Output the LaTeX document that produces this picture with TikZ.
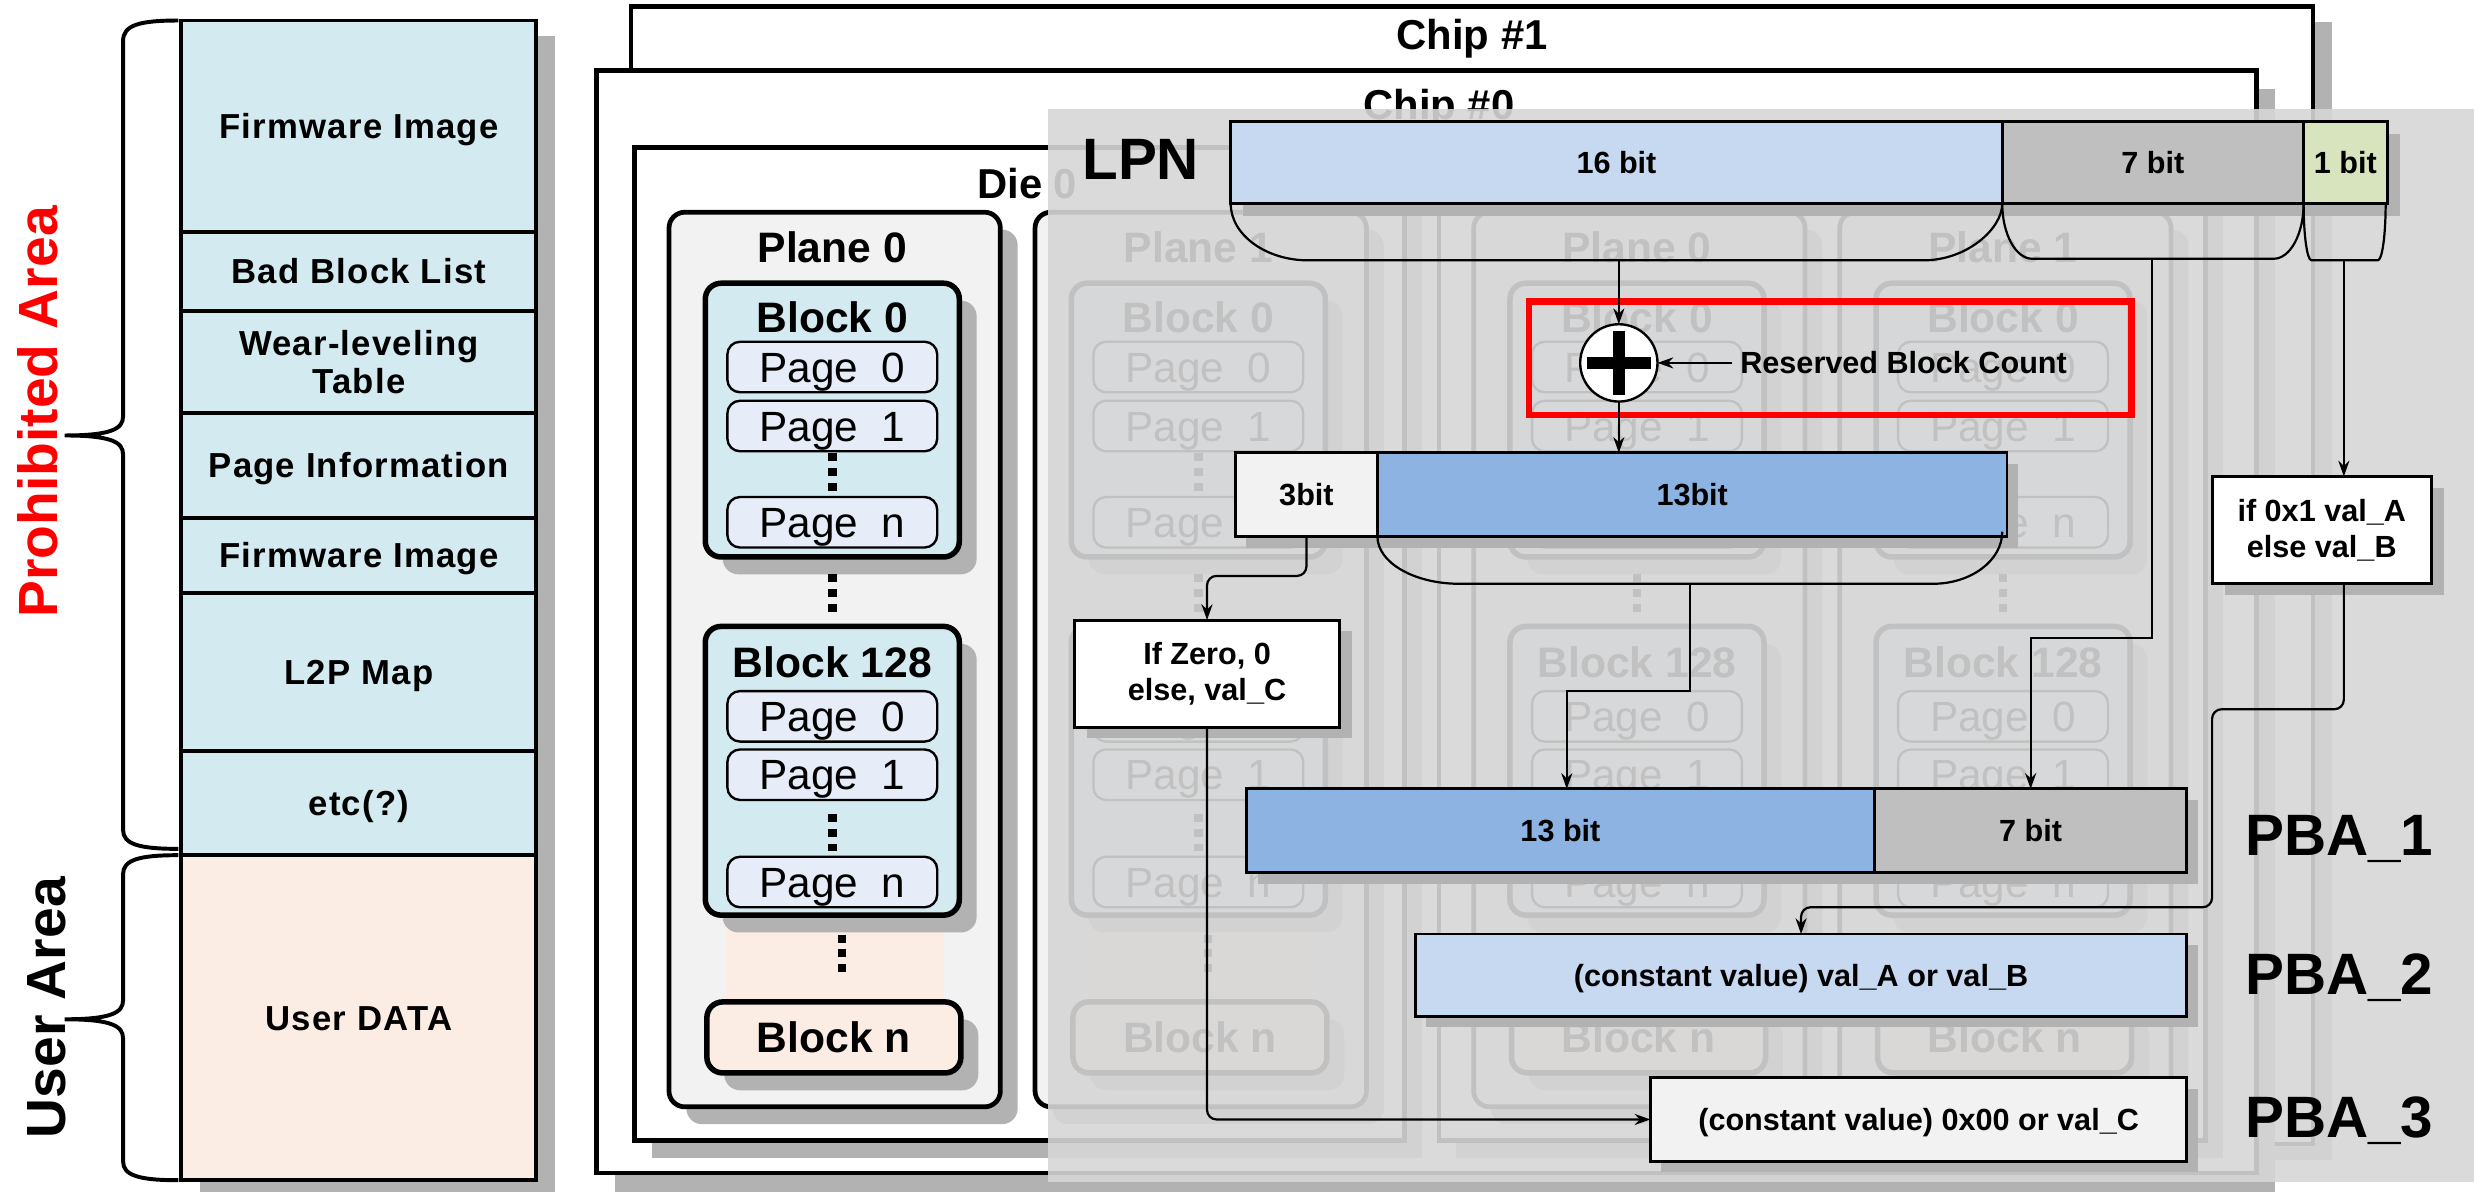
\documentclass[tikz,border=0pt]{standalone}
\usepackage{fontspec}
\setmainfont{Liberation Sans}
\newfontfamily\tabfont[LetterSpace=3.5]{Liberation Sans}
\usetikzlibrary{arrows.meta,shadows}

\definecolor{tblue}{RGB}{210,234,240}
\definecolor{tpeach}{RGB}{251,237,227}
\definecolor{pagefill}{RGB}{230,237,248}
\definecolor{planefill}{RGB}{242,242,242}
\definecolor{shd}{RGB}{178,178,178}
\definecolor{veil}{RGB}{214,214,214}
\definecolor{lpnblue}{RGB}{198,217,241}
\definecolor{midblue}{RGB}{141,179,226}
\definecolor{bitgray}{RGB}{191,191,191}
\definecolor{bitgreen}{RGB}{215,228,189}
\definecolor{hotred}{RGB}{255,0,0}

\tikzset{
  every node/.style={inner sep=0pt, outer sep=0pt},
  dshadow/.style 2 args={drop shadow={shadow xshift=#1pt, shadow yshift=-#2pt, fill=shd, opacity=1}},
  tabtxt/.style={font=\tabfont\bfseries\fontsize{22}{24}\selectfont, text height=15.8pt, text depth=0pt},
  tabtxttwo/.style={font=\tabfont\bfseries\fontsize{22}{24}\selectfont, align=center},
  bigtxt/.style={font=\bfseries\fontsize{27}{30}\selectfont, text height=19.3pt, text depth=0pt},
  chiptxt/.style={font=\bfseries\fontsize{26.5}{30}\selectfont, text height=19pt, text depth=0pt},
  pagetxt/.style={font=\fontsize{26.8}{30}\selectfont, text height=19.2pt, text depth=0pt},
  smtxt/.style={font=\bfseries\fontsize{19.4}{23}\selectfont, text height=13.9pt, text depth=0pt},
  smtxttwo/.style={font=\bfseries\fontsize{19.4}{22.5}\selectfont, align=center},
  hugetxt/.style={font=\bfseries\fontsize{37}{40}\selectfont, text height=26.5pt, text depth=0pt},
  sidetxt/.style={font=\bfseries\fontsize{35}{38}\selectfont, rotate=90, anchor=base},
  trow/.style={draw, line width=2.5pt, fill=tblue, anchor=north west, minimum width=225pt},
  chipbox/.style={draw, line width=3pt, fill=white, anchor=north west},
  planebox/.style={draw, line width=3pt, rounded corners=10pt, fill=planefill, anchor=north west, dshadow={11}{11}},
  blockbox/.style={draw, line width=3.5pt, rounded corners=10pt, fill=tblue, anchor=north west, minimum width=161pt, dshadow={11}{11}},
  pagebox/.style={draw, line width=1.5pt, rounded corners=8pt, fill=pagefill, anchor=north west, minimum width=133pt, minimum height=32pt, pagetxt},
  seg/.style={draw, line width=1.8pt, anchor=north west, smtxt},
  valbox/.style={draw, line width=1.8pt, fill=white, anchor=north west, smtxttwo, dshadow={8}{7}},
  brc/.style={line width=1.4pt},
  arr/.style={line width=1.4pt, -{Stealth[length=10pt, width=7pt]}},
}

% three stacked squares standing for omitted items
\newcommand\vdotsat[2]{\foreach \k in {0,1,2}{\fill (#1-2.7,#2+\k*9.3) rectangle ++(5.4,5);}}

% one flash plane: #1 left edge, #2 title, #3 name suffix
\newcommand\flashplane[3]{%
  \begin{scope}[xshift=#1pt]
    \node[planebox, minimum width=210pt, minimum height=567pt] (pl#3) at (0,134.5) {};
    \node[bigtxt] (pl#3t) at (103.5,156.5) {#2};
    \node[blockbox, minimum height=173.5pt] (bk#3a) at (23,179.5) {};
    \node[bigtxt] (bk#3at) at (103.5,201) {Block 0};
    \node[pagebox] (pg#3a) at (37,216.6) {Page\ \ 0};
    \node[pagebox] (pg#3b) at (37,254) {Page\ \ 1};
    \vdotsat{103.5}{287.4}
    \node[pagebox] (pg#3c) at (37,315) {Page\ \ n};
    \vdotsat{103.5}{364}
    \fill[tpeach] (36,575) rectangle (174,650);
    \node[blockbox, minimum height=183pt] (bk#3b) at (23,397) {};
    \node[bigtxt] (bk#3bt) at (103.5,419.5) {Block 128};
    \node[pagebox] (pg#3d) at (37,438) {Page\ \ 0};
    \node[pagebox] (pg#3e) at (37,475) {Page\ \ 1};
    \vdotsat{103.5}{516}
    \node[pagebox] (pg#3f) at (37,543) {Page\ \ n};
    \vdotsat{109.5}{592.4}
    \node[blockbox, fill=tpeach, minimum height=45pt, bigtxt] (bk#3c) at (24,635) {Block n};
  \end{scope}}

\begin{document}
\begin{tikzpicture}[x=1pt, y=-1pt]
\useasboundingbox (0,0) rectangle (1568,755);

% ---------- flash memory map ----------
\fill[shd] (127,23) rectangle (352,760);
\node[trow, minimum height=134pt, tabtxt] (fw1) at (115,13) {Firmware Image};
\node[trow, minimum height=50pt, tabtxt] (bbl) at (115,147) {Bad Block List};
\node[trow, minimum height=65pt, tabtxttwo] (wlt) at (115,197) {Wear-leveling\\Table};
\node[trow, minimum height=66pt, tabtxt] (pgi) at (115,262) {Page Information};
\node[trow, minimum height=48pt, tabtxt] (fw2) at (115,328) {Firmware Image};
\node[trow, minimum height=100pt, tabtxt] (l2p) at (115,376) {L2P Map};
\node[trow, minimum height=66pt, tabtxt] (etc) at (115,476) {etc(?)};
\node[trow, fill=tpeach, minimum height=206pt, tabtxt] (usr) at (115,542) {User DATA};

% braces grouping the areas
\draw[line width=2.5pt] (113,13) .. controls (88,13) and (78,16) .. (78,26) -- (78,264)
  .. controls (78,272) and (70,276) .. (41,276) .. controls (70,276) and (78,280) .. (78,288)
  -- (78,526) .. controls (78,535) and (88,538) .. (113,538);
\draw[line width=2.5pt] (113,542) .. controls (88,542) and (78,545) .. (78,554) -- (78,634)
  .. controls (78,642) and (70,646) .. (41,646) .. controls (70,646) and (78,650) .. (78,658)
  -- (78,736) .. controls (78,745) and (88,748) .. (113,748);
\node[sidetxt, text=hotred] (prohib) at (36.3,261) {Prohibited Area};
\node[sidetxt] (userarea) at (41.3,638.6) {User Area};

% ---------- chips, dies, planes ----------
\node[chipbox, minimum width=1066pt, minimum height=721pt, dshadow={12}{10}] (chip1) at (400,4) {};
\node[chiptxt] (chip1t) at (933,22) {Chip \#1};
\node[chipbox, minimum width=1052pt, minimum height=699pt, dshadow={12}{12}] (chip0) at (378,44.5) {};
\node[chiptxt] (chip0t) at (912,66) {Chip \#0};
\node[chipbox, minimum width=488pt, minimum height=629.5pt, dshadow={11}{11}] (die0) at (402,93.5) {};
\node[chipbox, minimum width=486pt, minimum height=629.5pt, dshadow={11}{11}] (die1) at (912,93.5) {};
\node[chiptxt] (die0t) at (651,116) {Die 0};

\flashplane{424}{Plane 0}{a}
\flashplane{656}{Plane 1}{b}
\flashplane{934}{Plane 0}{c}
\flashplane{1166}{Plane 1}{d}

% translucent veil over the address translation
\fill[veil, opacity=0.9] (664,69) rectangle (1580,749);

% ---------- logical page number ----------
\node[hugetxt, anchor=west] (lpn) at (686,100.75) {LPN};
\fill[shd] (788,85) rectangle (1521,137);
\node[seg, fill=lpnblue, minimum width=489pt, minimum height=52pt] (s16) at (780,77) {16 bit};
\node[seg, fill=bitgray, minimum width=191pt, minimum height=52pt] (s7) at (1269,77) {7 bit};
\node[seg, fill=bitgreen, minimum width=53pt, minimum height=52pt] (s1) at (1460,77) {1 bit};

% field braces and their outputs
\draw[brc] (780,129) .. controls (780,149) and (802.5,165) .. (829,165) -- (1219,165)
  .. controls (1246.6,165) and (1269,145) .. (1269,129);
\draw[brc] (1269,129) .. controls (1269,148.3) and (1277.5,164) .. (1288,164) -- (1441,164)
  .. controls (1451.5,164) and (1460,148.3) .. (1460,129);
\draw[brc] (1460,129) .. controls (1460,149) and (1462.2,165) .. (1465,165) -- (1507,165)
  .. controls (1509.8,165) and (1512,149) .. (1512,129);
\coordinate (k16) at (1026,165);
\coordinate (k7) at (1364,164);
\coordinate (k1) at (1485.5,165);

% adder with reserved block count
\node[draw=hotred, line width=4pt, minimum width=382pt, minimum height=72pt, anchor=north west] (rbox) at (969,191) {};
\node[circle, draw, fill=white, line width=1.5pt, minimum size=49pt] (plus) at (1026,230) {};
\draw[line width=8pt] (1005.5,230) -- (1046.5,230);
\draw[line width=8pt] (1026,209.5) -- (1026,250.5);
\node[smtxt, anchor=west] (rbc) at (1103,230) {Reserved Block Count};

% block number after the offset
\fill[shd] (790,294) rectangle (1279,347);
\node[seg, fill=planefill, minimum width=90pt, minimum height=53pt] (s3b) at (783,287) {3bit};
\node[seg, fill=midblue, minimum width=399pt, minimum height=53pt] (s13b) at (873,287) {13bit};
\draw[brc] (873,340) .. controls (873,356.6) and (896.3,370) .. (925,370) -- (1225,370)
  .. controls (1249.3,370) and (1269,355.2) .. (1269,337);
\coordinate (k13) at (1071,370);

% selectors
\node[valbox, minimum width=168pt, minimum height=68pt] (ifz) at (681,393) {If Zero, 0\\else, val\_C};
\node[valbox, minimum width=139pt, minimum height=68pt] (ifa) at (1402,302) {if 0x1 val\_A\\else val\_B};

% physical block addresses
\fill[shd] (797,507) rectangle (1393,560);
\node[seg, fill=midblue, minimum width=398pt, minimum height=53pt] (p13) at (790,500) {13 bit};
\node[seg, fill=bitgray, minimum width=198pt, minimum height=53pt] (p7) at (1188,500) {7 bit};
\coordinate (p13in) at (993,500);
\node[seg, fill=lpnblue, minimum width=489pt, minimum height=52pt, dshadow={7}{7}] (pba2) at (897,592) {(constant value) val\_A or val\_B};
\node[seg, fill=planefill, minimum width=340pt, minimum height=53pt, dshadow={7}{7}] (pba3) at (1046,683) {(constant value) 0x00 or val\_C};
\node[hugetxt, anchor=base west] (pba1t) at (1423,542) {PBA\_1};
\node[hugetxt, anchor=base west] (pba2t) at (1423,630) {PBA\_2};
\node[hugetxt, anchor=base west] (pba3t) at (1423,721) {PBA\_3};

% connectors
\draw[arr] (k16) -- (plus.north);
\draw[arr] (plus.south) -- (plus.south |- s13b.north);
\draw[arr] ([xshift=-5pt]rbc.west) -- (plus.east);
\draw[arr, rounded corners=6pt] (s3b.south) -- ++(0,25) -| (ifz.north);
\draw[arr] (k13) -- ++(0,68) -| (p13in);
\draw[arr] (k7) -- ++(0,240.5) -| (p7.north);
\draw[arr] (k1) -- (k1 |- ifa.north);
\draw[arr, rounded corners=6pt] (k1 |- ifa.south) -- ++(0,79.5) -| ++(-83.5,125.5) -| (pba2.north);
\draw[arr, rounded corners=6pt] (ifz.south) |- (pba3.west);
\end{tikzpicture}
\end{document}
